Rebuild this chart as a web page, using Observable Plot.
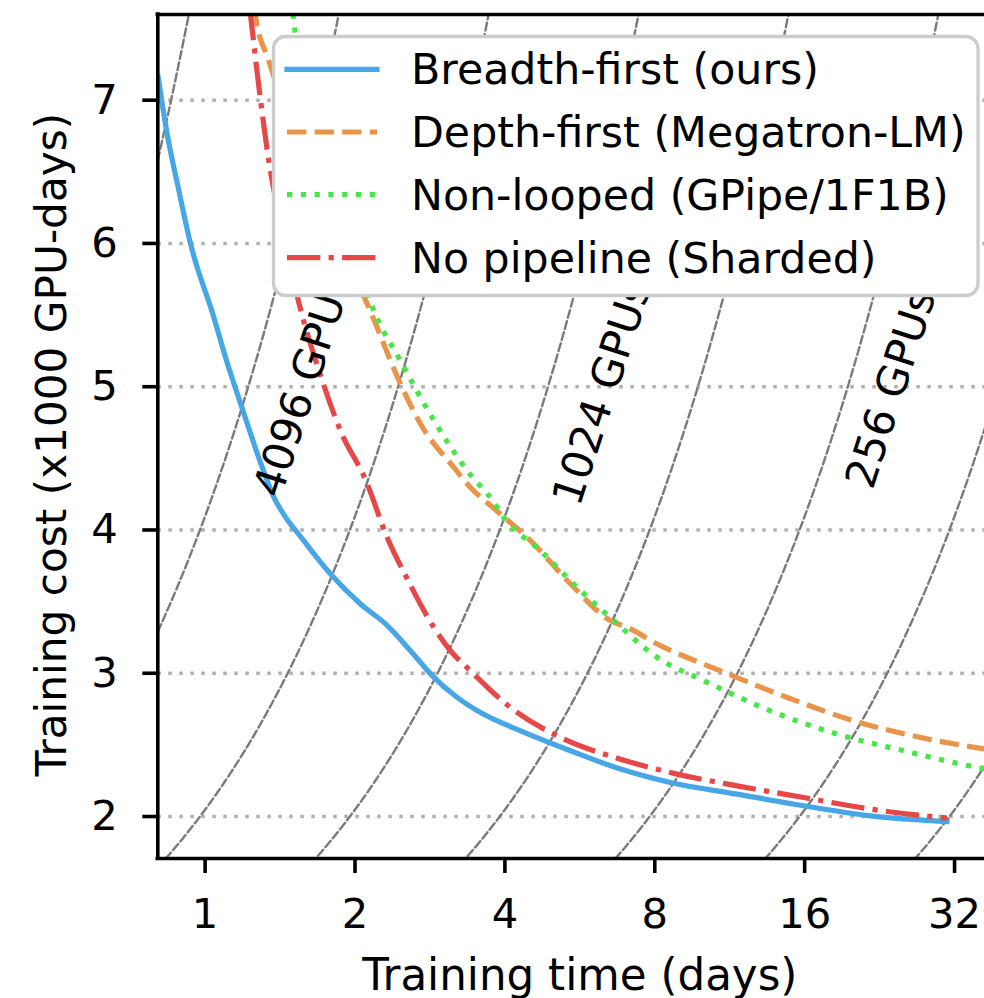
<!DOCTYPE html>
<html>
<head>
<meta charset="utf-8">
<script src="https://cdn.jsdelivr.net/npm/d3@7"></script>
<script src="https://cdn.jsdelivr.net/npm/@observablehq/plot@0.6"></script>
<style>
  html, body { margin: 0; padding: 0; background: white; }
  svg { display: block; }
</style>
</head>
<body>
<div id="chart"></div>
<script>
// ---------- data ----------
const xTicks = [1, 2, 4, 8, 16, 32];
const yTicks = [2, 3, 4, 5, 6, 7];

const seriesNames = [
  "Breadth-first (ours)",
  "Depth-first (Megatron-LM)",
  "Non-looped (GPipe/1F1B)",
  "No pipeline (Sharded)"
];

// Breadth-first (ours)
const breadthT = [0.805, 0.839, 0.884, 0.935, 1.041, 1.10, 1.20, 1.292, 1.374, 1.45, 1.554, 1.786, 2.052, 2.303, 2.585, 2.88, 3.209, 3.573, 4.30, 5.42, 6.83, 8.60, 11.71, 15.93, 21.7, 30.9];
const breadthC = [7.16, 6.765, 6.383, 5.997, 5.485, 5.20, 4.80, 4.47, 4.23, 4.09, 3.955, 3.693, 3.483, 3.344, 3.157, 2.971, 2.831, 2.726, 2.598, 2.459, 2.331, 2.237, 2.156, 2.075, 2.005, 1.965];

// Depth-first (Megatron-LM)
const depthT = [1.255, 1.262, 1.342, 1.6, 1.85, 2.116, 2.468, 2.708, 3.158, 3.411, 3.80, 4.503, 5.42, 6.52, 7.05, 8.09, 10.84, 14.76, 20.08, 27.33, 36.75];
const depthC = [7.65, 7.59, 7.277, 6.53, 6.0, 5.578, 5.02, 4.74, 4.437, 4.297, 4.152, 3.925, 3.623, 3.367, 3.32, 3.204, 3.017, 2.831, 2.668, 2.552, 2.471];

// Non-looped (GPipe/1F1B)
const nonloopT = [1.49, 1.507, 1.75, 2.0, 2.182, 2.468, 2.88, 3.36, 3.80, 3.98, 4.715, 5.587, 6.62, 8.09, 10.04, 13.66, 18.6, 25.3, 36.1, 36.75];
const nonloopC = [7.7, 7.55, 6.55, 5.9, 5.53, 5.18, 4.766, 4.414, 4.195, 4.088, 3.855, 3.6, 3.367, 3.11, 2.948, 2.738, 2.575, 2.459, 2.338, 2.333];

// No pipeline (Sharded)
const nopipeT = [1.228, 1.233, 1.292, 1.342, 1.432, 1.542, 1.719, 1.870, 2.10, 2.321, 2.546, 2.880, 3.11, 3.411, 4.105, 5.173, 6.83, 8.87, 11.71, 15.93, 21.7, 30.9];
const nopipeC = [7.65, 7.6, 7.0, 6.58, 6.076, 5.589, 5.043, 4.693, 4.35, 3.948, 3.66, 3.32, 3.157, 3.017, 2.761, 2.552, 2.40, 2.296, 2.214, 2.133, 2.052, 1.989];

// iso-GPU-count reference curves (cost = GPUs x days / 1000)
const gpuCounts = [8192, 4096, 2048, 1024, 512, 256, 128, 64];
const isoLabels = ["4096 GPUs", "1024 GPUs", "256 GPUs"];
const isoLabelT = [1.417, 5.649, 21.9];
const isoLabelC = [4.212, 4.156, 4.274];

const xDomain = [0.8035, 36.75];
const yDomain = [1.707, 7.598];

// ---------- build tables ----------
const colors = ["#47a6e6", "#e99448", "#46e646", "#e64848"];
const dashes = [null, "19.3,8.3", "5.2,8.6", "33.3,8.3,5.2,8.3"];
const tArr = [breadthT, depthT, nonloopT, nopipeT];
const cArr = [breadthC, depthC, nonloopC, nopipeC];
const series = seriesNames.map((name, i) => tArr[i].map((t, j) => ({name, t, c: cArr[i][j]})));

const iso = gpuCounts.flatMap(n => d3.range(0, 301).map(i => {
  const t = xDomain[0] * Math.pow(xDomain[1] / xDomain[0], i / 300);
  return {n, t, c: n * t / 1000};
}));
const isoLabelRows = isoLabels.map((label, i) => ({label, t: isoLabelT[i], c: isoLabelC[i]}));

const FS = 41.7;

const lineMarks = series.map((rows, i) => Plot.line(rows, {
  x: "t", y: "c",
  curve: "monotone-x",
  stroke: colors[i],
  strokeWidth: 5.2,
  strokeDasharray: dashes[i] || undefined,
  strokeLinecap: dashes[i] ? "butt" : "square",
  strokeLinejoin: "round",
  clip: true
}));

const chart = Plot.plot({
  width: 984,
  height: 998,
  marginLeft: 157.3,
  marginRight: 0,
  marginTop: 14,
  marginBottom: 140,
  style: {fontFamily: "'DejaVu Sans', sans-serif", fontSize: FS + "px", background: "white", color: "black"},
  x: {type: "log", base: 2, domain: xDomain},
  y: {domain: yDomain},
  marks: [
    Plot.gridY(yTicks, {stroke: "#b0b0b0", strokeOpacity: 1, strokeWidth: 3.5, strokeDasharray: "3.5,7.5"}),
    Plot.line(iso, {x: "t", y: "c", z: "n", stroke: "#7a7a7a", strokeWidth: 2.4, strokeDasharray: "8,3.5", clip: true}),
    ...lineMarks,
    Plot.text(isoLabelRows, {x: "t", y: "c", text: "label", rotate: -72, textAnchor: "start", lineAnchor: "bottom", fill: "black", fontSize: 42.3}),
    Plot.ruleX([xDomain[0]], {stroke: "black", strokeWidth: 3.6, strokeLinecap: "square"}),
    Plot.ruleY([yDomain[0], yDomain[1]], {stroke: "black", strokeWidth: 3.6, strokeLinecap: "square"}),
    Plot.axisX(xTicks, {tickSize: 15, tickPadding: 25, strokeWidth: 3.6, tickFormat: d => String(d), label: null, fontSize: FS}),
    Plot.axisY(yTicks, {tickSize: 15, tickPadding: 25, strokeWidth: 3.6, tickFormat: d => String(d), label: null, fontSize: FS}),
    Plot.text(["Training time (days)"], {frameAnchor: "bottom-left", dx: 422, dy: 131, textAnchor: "middle", lineAnchor: "bottom", fill: "black", fontSize: 43.6}),
    Plot.text(["Training cost (x1000 GPU-days)"], {frameAnchor: "left", dx: -92.3, dy: 8, rotate: -90, textAnchor: "middle", lineAnchor: "bottom", fill: "black", fontSize: 42.2})
  ]
});

// ---------- legend (drawn on top, inside the axes) ----------
const lg = d3.select(chart).append("g").attr("class", "legend").attr("text-anchor", "start");
lg.append("rect")
  .attr("x", 273.5).attr("y", 36.5).attr("width", 704.5).attr("height", 259)
  .attr("rx", 12).attr("ry", 12)
  .attr("fill", "white").attr("stroke", "#cccccc").attr("stroke-width", 3.3);
const rowsY = [69.3, 132, 194.7, 257.7];
seriesNames.forEach((name, i) => {
  lg.append("line")
    .attr("x1", 287).attr("x2", 377).attr("y1", rowsY[i]).attr("y2", rowsY[i])
    .attr("stroke", colors[i]).attr("stroke-width", 5.2)
    .attr("stroke-dasharray", dashes[i])
    .attr("stroke-linecap", dashes[i] ? "butt" : "square");
  lg.append("text")
    .attr("x", 411).attr("y", rowsY[i] + 15)
    .attr("text-anchor", "start")
    .attr("font-family", "'DejaVu Sans', sans-serif")
    .attr("font-size", 42.7).attr("fill", "black")
    .text(name);
});

document.getElementById("chart").appendChild(chart);
</script>
</body>
</html>
